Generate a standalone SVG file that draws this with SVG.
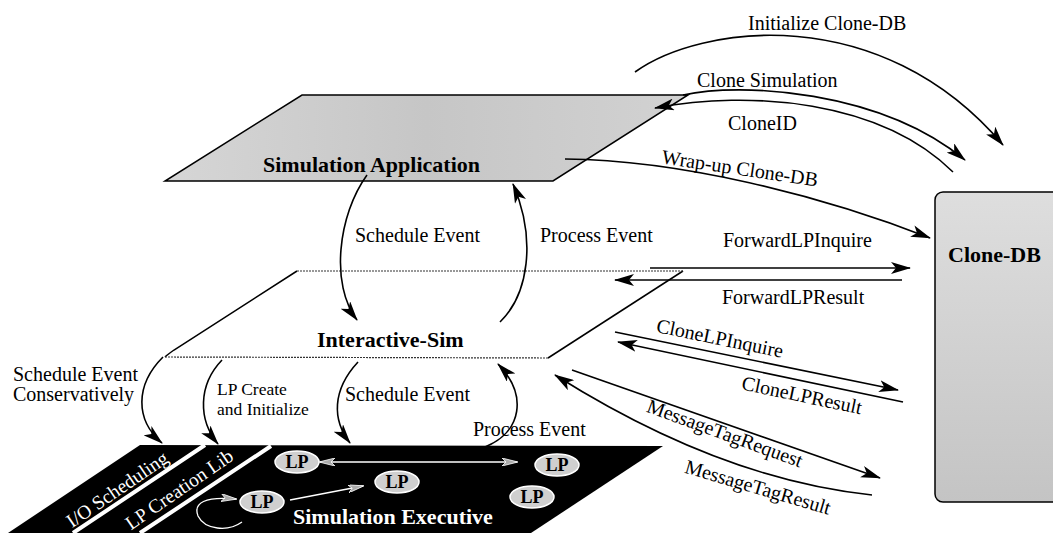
<svg xmlns="http://www.w3.org/2000/svg" width="1053" height="533" viewBox="0 0 1053 533">
<defs>
<style>
.lbl{font-family:"Liberation Serif","Times New Roman",serif;font-size:20px;fill:#000}
.sm{font-size:17.5px}
.bold{font-family:"Liberation Serif","Times New Roman",serif;font-size:22px;font-weight:bold;fill:#000}
.wlbl{font-family:"Liberation Serif","Times New Roman",serif;font-size:19.5px;fill:#fff}
.conn{fill:none;stroke:#000;stroke-width:1.6}
.wconn{fill:none;stroke:#fff;stroke-width:1.3}
.lp{fill:#cfcfcf;stroke:#fff;stroke-width:1.5}
.lpt{font-family:"Liberation Serif","Times New Roman",serif;font-size:18px;font-weight:bold;fill:#000;text-anchor:middle}
</style>
<marker id="ah" viewBox="0 0 20 12" refX="19" refY="6" markerWidth="20" markerHeight="12" markerUnits="userSpaceOnUse" orient="auto"><path d="M0,0 L20,6 L0,12 L5,6 z" fill="#000"/></marker>
<marker id="gh" viewBox="0 0 16 8" refX="15" refY="4" markerWidth="16" markerHeight="8" markerUnits="userSpaceOnUse" orient="auto-start-reverse"><path d="M0,0 L16,4 L0,8 L4,4 z" fill="#aaa" stroke="#fff" stroke-width="0.8"/></marker>
<linearGradient id="dbg" x1="0" y1="0" x2="0" y2="1"><stop offset="0" stop-color="#dedede"/><stop offset="1" stop-color="#c4c4c4"/></linearGradient>
<linearGradient id="sag" x1="0" y1="0" x2="1" y2="0"><stop offset="0" stop-color="#d6d6d6"/><stop offset="0.5" stop-color="#c6c6c6"/><stop offset="1" stop-color="#d2d2d2"/></linearGradient>
</defs>
<rect width="1053" height="533" fill="#fff"/>

<g id="sim-app">
<polygon points="302,95 688,95 553,181 165,181" fill="url(#sag)" stroke="#000" stroke-width="1.5"/>
<text class="bold" x="263" y="172">Simulation Application</text>
</g>

<g id="interactive-sim">
<polygon points="297,271 683,271 548,358 165,357" fill="#fff" stroke="none"/>
<path d="M297,271 L174,350 Q167,355 165,357" fill="none" stroke="#000" stroke-width="1.5"/>
<path d="M683,271 L548,358" fill="none" stroke="#000" stroke-width="1.5"/>
<path d="M297,271 L683,271 M165,357 L548,358" fill="none" stroke="#333" stroke-width="1.2" stroke-dasharray="2,1"/>
<text class="bold" x="317" y="347">Interactive-Sim</text>
</g>

<g id="clone-db">
<rect x="935" y="192" width="130" height="310" rx="8" fill="url(#dbg)" stroke="#000" stroke-width="1.5"/>
<text class="bold" x="948" y="262">Clone-DB</text>
</g>

<g id="bottom-layer">
<polygon points="140,445 663,446 531,533 8,533" fill="#000"/>
<path d="M205,445 L73,533 M271,446 L140,533" stroke="#fff" stroke-width="4"/>
</g>
<g id="io-scheduling">
<text class="wlbl" text-anchor="middle" transform="translate(117,489) rotate(-34.5)" y="7">I/O Scheduling</text>
</g>
<g id="lp-creation-lib">
<text class="wlbl" text-anchor="middle" transform="translate(179,489) rotate(-34.5)" y="7">LP Creation Lib</text>
</g>
<g id="simulation-executive">
<text class="bold" style="fill:#fff" x="293" y="524">Simulation Executive</text>
</g>

<g id="lp-connectors">
<path class="wconn" d="M320,462 L517,462" marker-start="url(#gh)" marker-end="url(#gh)"/>
<path class="wconn" d="M290,500 L363,486" marker-end="url(#gh)"/>
<path class="wconn" d="M242,522 C228,532 205,530 198,516 C193,503 205,496 236,499" marker-end="url(#gh)"/>
</g>
<g id="lp1"><ellipse class="lp" cx="297" cy="462" rx="22" ry="11"/><text class="lpt" x="297" y="468">LP</text></g>
<g id="lp2"><ellipse class="lp" cx="557" cy="465" rx="22" ry="11"/><text class="lpt" x="557" y="471">LP</text></g>
<g id="lp3"><ellipse class="lp" cx="397" cy="482" rx="22" ry="11"/><text class="lpt" x="397" y="488">LP</text></g>
<g id="lp4"><ellipse class="lp" cx="262" cy="502" rx="22" ry="11"/><text class="lpt" x="262" y="508">LP</text></g>
<g id="lp5"><ellipse class="lp" cx="532" cy="497" rx="22" ry="11"/><text class="lpt" x="532" y="503">LP</text></g>

<g id="connectors">
<path class="conn" d="M367,175 C338,215 330,285 357,320" marker-end="url(#ah)"/>
<path class="conn" d="M500,322 C528,295 537,240 513,184" marker-end="url(#ah)"/>
<path class="conn" d="M635,72 C700,25 880,0 1003,145" marker-end="url(#ah)"/>
<path class="conn" d="M683,95 C740,82 880,90 965,160" marker-end="url(#ah)"/>
<path class="conn" d="M953,172 C880,100 750,90 655,108" marker-end="url(#ah)"/>
<path class="conn" d="M565,159 C680,160 820,195 930,238" marker-end="url(#ah)"/>
<path class="conn" d="M650,268 L910,268" marker-end="url(#ah)"/>
<path class="conn" d="M902,280 L615,280" marker-end="url(#ah)"/>
<path class="conn" d="M615,332 L898,390" marker-end="url(#ah)"/>
<path class="conn" d="M903,402 L618,342" marker-end="url(#ah)"/>
<path class="conn" d="M572,370 L880,478" marker-end="url(#ah)"/>
<path class="conn" d="M872,495 Q720,479 555,375" marker-end="url(#ah)"/>
<path class="conn" d="M163,357 C135,385 135,420 162,443" marker-end="url(#ah)"/>
<path class="conn" d="M222,360 C198,385 198,420 218,444" marker-end="url(#ah)"/>
<path class="conn" d="M358,362 C332,390 332,420 350,443" marker-end="url(#ah)"/>
<path class="conn" d="M485,447 C522,432 528,395 498,364" marker-end="url(#ah)"/>
</g>

<g id="labels">
<text class="lbl" x="748" y="30">Initialize Clone-DB</text>
<text class="lbl" x="697" y="87">Clone Simulation</text>
<text class="lbl" x="728" y="130">CloneID</text>
<text class="lbl" text-anchor="middle" transform="translate(740,168) rotate(8.5)" y="7">Wrap-up Clone-DB</text>
<text class="lbl" x="723" y="247">ForwardLPInquire</text>
<text class="lbl" x="722" y="304">ForwardLPResult</text>
<text class="lbl" text-anchor="middle" transform="translate(720,338) rotate(11.6)" y="7">CloneLPInquire</text>
<text class="lbl" text-anchor="middle" transform="translate(802,395) rotate(11.8)" y="7">CloneLPResult</text>
<text class="lbl" text-anchor="middle" transform="translate(725,433) rotate(20)" y="7">MessageTagRequest</text>
<text class="lbl" text-anchor="middle" transform="translate(758,487) rotate(16.3)" y="7">MessageTagResult</text>
<text class="lbl" x="355" y="242">Schedule Event</text>
<text class="lbl" x="540" y="242">Process Event</text>
<text class="lbl" x="13" y="381">Schedule Event</text>
<text class="lbl" x="13" y="401">Conservatively</text>
<text class="lbl sm" x="217" y="395">LP Create</text>
<text class="lbl sm" x="217" y="415">and Initialize</text>
<text class="lbl" x="345" y="401">Schedule Event</text>
<text class="lbl" x="473" y="436">Process Event</text>
</g>
</svg>
